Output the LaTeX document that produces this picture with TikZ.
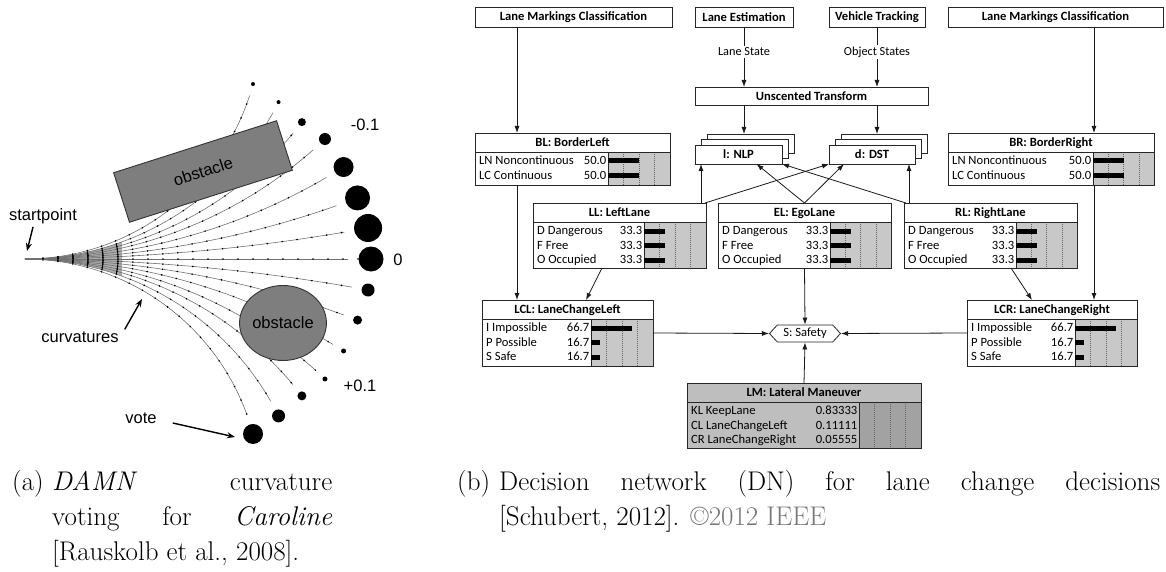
\documentclass[tikz,border=0pt]{standalone}
\usepackage{fontspec}
\usetikzlibrary{arrows.meta,shapes.geometric,shapes.symbols,calc}
\newfontfamily\dnfont{Carlito}
\newfontfamily\figfont{Liberation Sans}
\definecolor{barfill}{HTML}{C8C8C8}
\definecolor{lmfill}{HTML}{BEBEBE}
\definecolor{lmbar}{HTML}{A2A2A2}
\definecolor{obstgray}{HTML}{7E7E7E}
\definecolor{curvegray}{HTML}{707070}
\definecolor{copygray}{HTML}{777777}

% table node of the decision network: name, x0, y0, x1, y1, bar start, title, body fill, bar fill
\newcommand\dnbox[9]{%
  \node[tframe, fill=#8, minimum width={#4-#2}, minimum height={#5-#3}, anchor=north west] (#1) at (#2,#3) {};
  \fill[#9] (#6,#3+19) rectangle (#4,#5);
  \foreach \q in {0.25,0.5,0.75}
    \draw[gridline] ({#6+\q*(#4-#6)},#3+19) -- ({#6+\q*(#4-#6)},#5);
  \draw[dnline] (#2,#3+19) -- (#4,#3+19) (#6,#3+19) -- (#6,#5);
  \node[dntitle] (#1-title) at ({(#2+#4)/2},#3+9.5) {#7};
  \draw[dnline] (#1.north west) rectangle (#1.south east);
}
% state row: box name, id, x0, bar start, y, label, value
\newcommand\dnrowtext[7]{%
  \node[dnrow, anchor=west] (#1-l#2) at (#3+4,#5) {#6};
  \node[dnrow, anchor=east] (#1-v#2) at (#4-1.5,#5) {#7};
}
% belief bar: bar start, y, length
\newcommand\dnbar[3]{\fill[black] (#1,#2-2.5) rectangle ({#1+#3},#2+2.5);}

\begin{document}
\begin{tikzpicture}[x=1pt,y=-1pt,
  dnline/.style={draw=black!85, line width=0.8pt},
  gridline/.style={draw=black!60, line width=0.5pt, dash pattern=on 1pt off 1pt},
  arr/.style={draw=black!90, line width=0.8pt, -{Latex[length=7pt,width=5pt]}},
  plain/.style={draw=black!90, line width=0.8pt},
  tframe/.style={inner sep=0pt, outer sep=0pt},
  topbox/.style={draw=black!85, line width=0.8pt, fill=white, inner sep=0pt, outer sep=0pt,
    anchor=north west, font={\dnfont\fontsize{12.6}{14}\selectfont\bfseries}},
  dntitle/.style={inner sep=0pt, text height=8.5pt, text depth=1pt, font={\dnfont\fontsize{12.6}{14}\selectfont\bfseries}},
  dnrow/.style={inner sep=0pt, text height=8.5pt, text depth=1pt, font={\dnfont\fontsize{12.6}{14}\selectfont}},
  edgelabel/.style={fill=white, inner sep=1.5pt, font={\dnfont\fontsize{12.3}{14}\selectfont}},
  safety/.style={signal, signal to=west and east, signal pointer angle=95, draw=black!85, line width=0.8pt,
    fill=white, minimum width=71pt, minimum height=17pt, inner sep=1pt, font={\dnfont\fontsize{12.6}{14}\selectfont}},
  curve/.style={draw=curvegray, line width=0.6pt},
  fanfill/.style={fill=black!32},
  tickarc/.style={draw=black, line width=0.9pt},
  obst/.style={draw=black!80, line width=0.9pt, fill=obstgray, inner sep=0pt, font={\figfont\fontsize{16.5}{19}\selectfont}},
  figlabel/.style={inner sep=0pt, font={\figfont\fontsize{16.5}{19}\selectfont}},
  figarr/.style={draw=black, line width=1.4pt, -{Stealth[length=8pt,width=6pt]}},
  capfont/.style={inner sep=0pt, anchor=base west, font={\fontsize{27}{32}\selectfont}}
]
\useasboundingbox (0,0) rectangle (1166,572);

% ---------- (a) curvature voting ----------
% dense core of the fan near the start point
\fill[fanfill] (25,259)
  -- plot[domain=0:20, samples=20, variable=\t] ({25+283.3*sin(\t)},{259-283.3*(1-cos(\t))})
  -- plot[domain=20:0, samples=20, variable=\t] ({25+283.3*sin(\t)},{259+283.3*(1-cos(\t))})
  -- cycle;

% fan of constant-curvature arcs leaving the start point, with distance ticks
\foreach \ang/\alen/\rad/\sg in {75/309/2/1, 63.5/314/2/1, 52.6/320/4/1, 43.6/331/6/1,
    32.2/336/10/1, 20.8/340/12.5/1, 10.3/345/14/1,
    10.3/345/6.5/-1, 20.8/340/4.5/-1, 32.2/336/2.5/-1, 43.6/331/2.5/-1,
    52.6/320/4.5/-1, 63.5/314/6.5/-1, 75/309/10/-1}{
  \pgfmathsetmacro\R{\alen/\ang*180/pi}
  \pgfmathsetmacro\pe{(\alen-\rad-10)/\alen*\ang}
  \draw[curve] plot[domain=0:\pe, samples=40, variable=\t] ({25+\R*sin(\t)},{259-\sg*\R*(1-cos(\t))});
  \pgfmathtruncatemacro\nt{floor((\alen-\rad-10-18)/15)}
  \foreach \k in {0,...,\nt}{
    \pgfmathsetmacro\tt{(18+15*\k)/\R*180/pi}
    \fill[black] ({25+\R*sin(\tt)},{259-\sg*\R*(1-cos(\tt))}) circle (0.9);
  }
}
\draw[curve] (25,259) -- (348,259);
\foreach \k in {0,...,21}{\fill[black] ({43+15*\k},259) circle (0.9);}

% equal-distance marks across the dense part of the fan
\foreach \d in {33,48,...,93}{
  \coordinate (fa) at ({25+283.3*sin(\d/283.3*180/pi)},{259-283.3*(1-cos(\d/283.3*180/pi))});
  \coordinate (fb) at ({25+597.9*sin(\d/597.9*180/pi)},{259-597.9*(1-cos(\d/597.9*180/pi))});
  \coordinate (fc) at ({25+\d},259);
  \coordinate (fd) at ({25+597.9*sin(\d/597.9*180/pi)},{259+597.9*(1-cos(\d/597.9*180/pi))});
  \coordinate (fe) at ({25+283.3*sin(\d/283.3*180/pi)},{259+283.3*(1-cos(\d/283.3*180/pi))});
  \draw[tickarc] plot[smooth] coordinates {(fa) (fb) (fc) (fd) (fe)};
}

% obstacles
\node[obst, minimum width=171pt, minimum height=52pt, rotate=17.7] (obsA) at (203,171.5) {obstacle};
\node[obst, ellipse, minimum width=85pt, minimum height=75pt] (obsB) at (283,323) {obstacle};

% vote dots at the end of each arc
\foreach \ang/\alen/\rad/\sg in {75/309/2/1, 63.5/314/2/1, 52.6/320/4/1, 43.6/331/6/1,
    32.2/336/10/1, 20.8/340/12.5/1, 10.3/345/14/1,
    10.3/345/6.5/-1, 20.8/340/4.5/-1, 32.2/336/2.5/-1, 43.6/331/2.5/-1,
    52.6/320/4.5/-1, 63.5/314/6.5/-1, 75/309/10/-1}{
  \pgfmathsetmacro\R{\alen/\ang*180/pi}
  \fill[black] ({25+\R*sin(\ang)},{259-\sg*\R*(1-cos(\ang))}) circle (\rad);
}
\fill[black] (371,259) circle (12.5);

% labels
\node[figlabel] (lsp) at (43,216) {startpoint};
\coordinate (spT) at (27,251);
\draw[figarr] ([xshift=-10pt,yshift=-3pt]lsp.south) -- (spT);
\node[figlabel] (lcv) at (80,337) {curvatures};
\coordinate (cvT) at (142,299);
\draw[figarr] ([xshift=6pt,yshift=2pt]lcv.north east) -- (cvT);
\node[figlabel] (lvote) at (141,418) {vote};
\coordinate (voteT) at (235,437);
\draw[figarr] ([xshift=16pt,yshift=-5pt]lvote.east) -- (voteT);
\node[figlabel] (kneg) at (365,125) {-0.1};
\node[figlabel] (kzero) at (398,260) {0};
\node[figlabel] (kpos) at (360,386) {+0.1};

% ---------- (b) decision network ----------
\node[topbox, minimum width=197pt, minimum height=20pt] (LMC1) at (475,7) {Lane Markings Classification};
\node[topbox, minimum width=98pt, minimum height=20pt] (LE) at (695,7) {Lane Estimation};
\node[topbox, minimum width=96pt, minimum height=20pt] (VT) at (829,7) {Vehicle Tracking};
\node[topbox, minimum width=215pt, minimum height=20pt] (LMC2) at (948,7) {Lane Markings Classification};
\node[topbox, minimum width=233pt, minimum height=18pt] (UT) at (695,87) {Unscented Transform};

\node[edgelabel] (lsl) at (744,52) {Lane State};
\node[edgelabel] (osl) at (877,52) {Object States};

% stacked decision nodes
\node[topbox, minimum width=87pt, minimum height=19pt] (NLP3) at (707,134) {};
\node[topbox, minimum width=87pt, minimum height=19pt] (NLP2) at (701,139.5) {};
\node[topbox, minimum width=87pt, minimum height=19pt] (NLP) at (695,145) {l: NLP};
\node[topbox, minimum width=86pt, minimum height=19pt] (DST3) at (841,134) {};
\node[topbox, minimum width=86pt, minimum height=19pt] (DST2) at (835,139.5) {};
\node[topbox, minimum width=86pt, minimum height=19pt] (DST) at (829,145) {d: DST};

% chance nodes with belief bars
\dnbox{BL}{475}{133}{670}{185}{608}{BL: BorderLeft}{white}{barfill}
\dnrowtext{BL}{1}{475}{608}{161}{LN Noncontinuous}{50.0}
\dnrowtext{BL}{2}{475}{608}{175.5}{LC Continuous}{50.0}
\dnbar{608}{161}{31}\dnbar{608}{175.5}{31}

\dnbox{BR}{948}{133}{1154}{185}{1093}{BR: BorderRight}{white}{barfill}
\dnrowtext{BR}{1}{948}{1093}{161}{LN Noncontinuous}{50.0}
\dnrowtext{BR}{2}{948}{1093}{175.5}{LC Continuous}{50.0}
\dnbar{1093}{161}{30.5}\dnbar{1093}{175.5}{30.5}

\dnbox{LL}{533}{203}{706}{268}{644}{LL: LeftLane}{white}{barfill}
\dnrowtext{LL}{1}{533}{644}{231}{D Dangerous}{33.3}
\dnrowtext{LL}{2}{533}{644}{245.5}{F Free}{33.3}
\dnrowtext{LL}{3}{533}{644}{260}{O Occupied}{33.3}
\dnbar{644}{231}{20.5}\dnbar{644}{245.5}{20.5}\dnbar{644}{260}{20.5}

\dnbox{EL}{718}{203}{891}{268}{830}{EL: EgoLane}{white}{barfill}
\dnrowtext{EL}{1}{718}{830}{231}{D Dangerous}{33.3}
\dnrowtext{EL}{2}{718}{830}{245.5}{F Free}{33.3}
\dnrowtext{EL}{3}{718}{830}{260}{O Occupied}{33.3}
\dnbar{830}{231}{20.5}\dnbar{830}{245.5}{20.5}\dnbar{830}{260}{20.5}

\dnbox{RL}{904}{203}{1077}{268}{1016}{RL: RightLane}{white}{barfill}
\dnrowtext{RL}{1}{904}{1016}{231}{D Dangerous}{33.3}
\dnrowtext{RL}{2}{904}{1016}{245.5}{F Free}{33.3}
\dnrowtext{RL}{3}{904}{1016}{260}{O Occupied}{33.3}
\dnbar{1016}{231}{20.5}\dnbar{1016}{245.5}{20.5}\dnbar{1016}{260}{20.5}

\dnbox{LCL}{482}{300}{653}{366}{591}{LCL: LaneChangeLeft}{white}{barfill}
\dnrowtext{LCL}{1}{482}{591}{328}{I Impossible}{66.7}
\dnrowtext{LCL}{2}{482}{591}{342.5}{P Possible}{16.7}
\dnrowtext{LCL}{3}{482}{591}{357}{S Safe}{16.7}
\dnbar{591}{328}{41}\dnbar{591}{342.5}{9}\dnbar{591}{357}{9}

\dnbox{LCR}{967}{300}{1137}{366}{1075}{LCR: LaneChangeRight}{white}{barfill}
\dnrowtext{LCR}{1}{967}{1075}{328}{I Impossible}{66.7}
\dnrowtext{LCR}{2}{967}{1075}{342.5}{P Possible}{16.7}
\dnrowtext{LCR}{3}{967}{1075}{357}{S Safe}{16.7}
\dnbar{1075}{328}{41}\dnbar{1075}{342.5}{9}\dnbar{1075}{357}{9}

\dnbox{LM}{687}{383}{921}{448}{859}{LM: Lateral Maneuver}{lmfill}{lmbar}
\dnrowtext{LM}{1}{687}{859}{411}{KL KeepLane}{0.83333}
\dnrowtext{LM}{2}{687}{859}{425.5}{CL LaneChangeLeft}{0.11111}
\dnrowtext{LM}{3}{687}{859}{440}{CR LaneChangeRight}{0.05555}

% utility node
\node[safety] (S) at (805,333.5) {S: Safety};

% connectors
\draw[arr] ([xshift=42pt]LMC1.south west) -- ([xshift=42pt]BL.north west);
\draw[arr] ([xshift=42pt]BL.south west) -- ([xshift=35pt]LCL.north west);
\draw[arr] ([xshift=146pt]LMC2.south west) -- ([xshift=146pt]BR.north west);
\draw[arr] ([xshift=146pt]BR.south west) -- ([xshift=127pt]LCR.north west);
\draw[plain] (LE) -- (lsl);
\draw[arr] (lsl) -- (lsl |- UT.north);
\draw[plain] (VT) -- (osl);
\draw[arr] (osl) -- (osl |- UT.north);
\draw[arr] (UT.south -| lsl) -- (lsl |- NLP3.north);
\draw[arr] (UT.south -| osl) -- (osl |- DST3.north);
\draw[arr] ([xshift=-5pt]LL.north east) -- ([xshift=6pt]NLP.south west);
\draw[arr] ([xshift=-1pt]LL.north east) -- (DST.south west);
\draw[arr] (EL.north) -- ([xshift=18pt]NLP.south);
\draw[arr] (EL.north) -- ([xshift=-28pt]DST.south);
\draw[arr] ([xshift=2pt]RL.north west) -- (NLP.south east);
\draw[arr] ([xshift=5pt]RL.north west) -- ([xshift=-6pt]DST.south east);
\draw[arr] ([xshift=69pt]LL.south west) -- ([xshift=104pt]LCL.north west);
\draw[arr] ([xshift=107pt]RL.south west) -- ([xshift=65pt]LCR.north west);
\draw[arr] (EL.south) -- (S.north);
\draw[arr] (LM.north) -- (S.south);
\draw[arr] (LCL.east) -- (S.west);
\draw[arr] (LCR.west) -- (S.east);

% ---------- captions ----------
\node[capfont] (capa) at (12,490) {(a)};
\node[capfont] (capa1) at (52,490) {\makebox[280pt][s]{\emph{DAMN} curvature}};
\node[capfont] (capa2) at (52,525) {\makebox[280pt][s]{voting for \emph{Caroline}}};
\node[capfont] (capa3) at (52,560) {[Rauskolb et al., 2008].};
\node[capfont] (capb) at (457,490) {(b)};
\node[capfont] (capb1) at (499,490) {\makebox[661pt][s]{Decision network (DN) for lane change decisions}};
\node[capfont] (capb2) at (499,525) {[Schubert, 2012]. {\color{copygray}\textcopyright2012 IEEE}};
\end{tikzpicture}
\end{document}
